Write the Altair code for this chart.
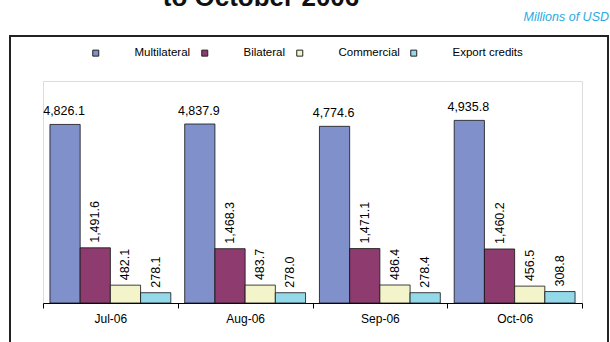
import altair as alt
import pandas as pd

months = ["Jul-06", "Aug-06", "Sep-06", "Oct-06"]
series = ["Multilateral", "Bilateral", "Commercial", "Export credits"]
multilateral = [4826.1, 4837.9, 4774.6, 4935.8]
bilateral = [1491.6, 1468.3, 1471.1, 1460.2]
commercial = [482.1, 483.7, 486.4, 456.5]
export_credits = [278.1, 278.0, 278.4, 308.8]
colors = ["#8090CA", "#8E3B6F", "#F4F4CB", "#94D9EA"]
title_text = "to October 2006"
unit_text = "Millions of USD"

rows = []
for s, vals in zip(series, [multilateral, bilateral, commercial, export_credits]):
    for m, v in zip(months, vals):
        rows.append({"month": m, "series": s, "value": v})
df = pd.DataFrame(rows)

FONT = "Liberation Sans"

x_enc = alt.X("month:N", sort=months, title=None,
              scale=alt.Scale(paddingInner=0, paddingOuter=0),
              axis=alt.Axis(labelAngle=0, tickBand="extent", tickSize=5,
                            labelPadding=5, labelFontSize=12, labelColor="#000",
                            labelFont=FONT, domainColor="#000", tickColor="#000",
                            grid=False))
xo_enc = alt.XOffset("series:N", sort=series,
                     scale=alt.Scale(paddingInner=0, paddingOuter=0.23))
y_enc = alt.Y("value:Q", scale=alt.Scale(domain=[0, 6000], nice=False), axis=None)

base = alt.Chart(df)

bars = base.mark_bar(stroke="#111", strokeWidth=0.8).encode(
    x=x_enc, xOffset=xo_enc, y=y_enc,
    color=alt.Color("series:N", sort=series,
                    scale=alt.Scale(domain=series, range=colors),
                    legend=alt.Legend(title=None, orient="none", direction="horizontal",
                                      legendX=47, legendY=-34,
                                      symbolType="square", symbolSize=36,
                                      symbolStrokeColor="#222", symbolStrokeWidth=1,
                                      labelOffset=33, columnPadding=8,
                                      labelFontSize=11.5, labelFont=FONT,
                                      labelColor="#000", padding=0)),
)

lab_h = base.transform_filter(alt.datum.series == "Multilateral").mark_text(
    baseline="bottom", dy=-6, dx=-1, fontSize=12.5, font=FONT, color="#000"
).encode(x=x_enc, xOffset=xo_enc, y=y_enc, text=alt.Text("value:Q", format=",.1f"))

lab_v = base.transform_filter(alt.datum.series != "Multilateral").mark_text(
    angle=270, align="left", baseline="middle", dx=5, fontSize=12.5, font=FONT, color="#000"
).encode(x=x_enc, xOffset=xo_enc, y=y_enc, text=alt.Text("value:Q", format=",.1f"))

frame = alt.Chart(pd.DataFrame({"k": [0]})).mark_rect(
    fill=None, stroke="#222", strokeWidth=2
).encode(x=alt.value(-33), x2=alt.value(565), y=alt.value(-45), y2=alt.value(300))

title = alt.Chart(pd.DataFrame({"t": [title_text]})).mark_text(
    fontSize=26, fontWeight="bold", font=FONT, color="#111",
    align="center", baseline="alphabetic"
).encode(text="t:N", x=alt.value(218), y=alt.value(-75))

unit = alt.Chart(pd.DataFrame({"t": [unit_text]})).mark_text(
    fontSize=12.5, fontStyle="italic", font=FONT, color="#29ABE2",
    align="right", baseline="alphabetic"
).encode(text="t:N", x=alt.value(566), y=alt.value(-60))

chart = alt.layer(frame, bars, lab_h, lab_v, title, unit).properties(
    width=539, height=222,
    autosize=alt.AutoSizeParams(type="none"),
    padding={"left": 43, "top": 81, "right": 28, "bottom": 39},
).configure_view(stroke=None).configure(background="white")

chart.save("out.html", embed_options={"renderer": "svg", "actions": False})
